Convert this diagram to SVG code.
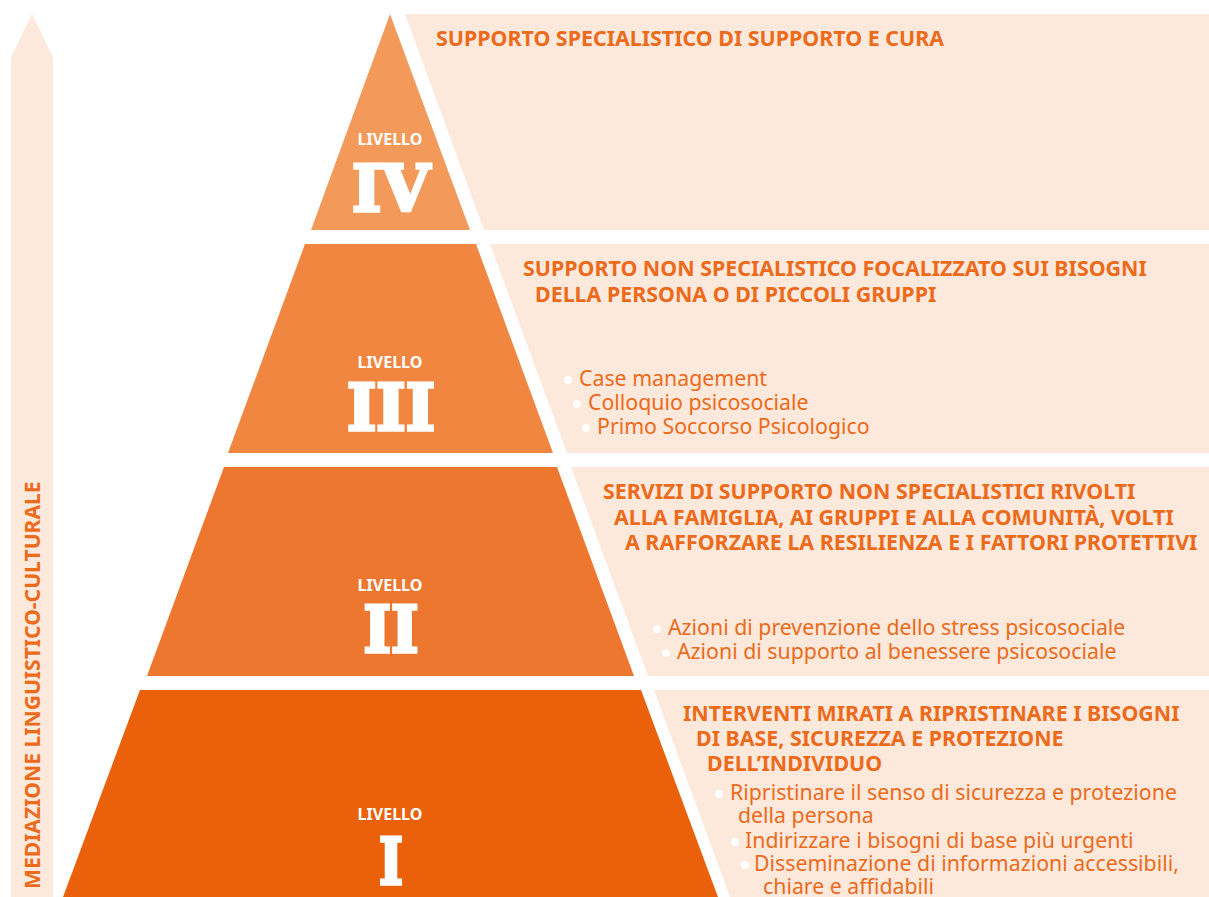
<svg xmlns="http://www.w3.org/2000/svg" width="1209" height="897" viewBox="0 0 1209 897">
<style>
.panel{fill:#FDE9DC}
.hd{font-family:"Noto Sans","Open Sans",sans-serif;font-weight:700;font-size:21.4px;fill:#EC6A1A}
.bl{font-family:"Noto Sans","Open Sans",sans-serif;font-size:21.3px;fill:#EC6A1A}
.lv{font-family:"Noto Sans","Open Sans",sans-serif;font-weight:700;font-size:16px;fill:#FFFFFF;text-anchor:middle}
.rn{font-family:"DejaVu Serif","Liberation Serif",serif;font-weight:700;font-size:64px;fill:#FFFFFF;stroke:#FFFFFF;stroke-width:3.5;stroke-linejoin:miter;text-anchor:middle}
.dot{fill:#FFFFFF}
.side{font-family:"Noto Sans","Open Sans",sans-serif;font-weight:700;font-size:21.1px;fill:#EC6A1A}
</style>
<rect width="1209" height="897" fill="#FFFFFF"/>
<g id="arrow">
<polygon class="panel" points="32,14 53,57 53,897 11,897 11,57"/>
<text class="side" transform="translate(40,889) rotate(-90)">MEDIAZIONE LINGUISTICO-CULTURALE</text>
</g>
<g id="level4">
<polygon fill="#F39A5A" points="390,14 470,230 311,230"/>
<polygon class="panel" points="405,14 1209,14 1209,230 484,230"/>
<text class="lv" x="390" y="145">LIVELLO</text>
<text class="rn" x="391" y="211" font-size="70" textLength="78" lengthAdjust="spacingAndGlyphs">IV</text>
<text class="hd" x="436" y="46">SUPPORTO SPECIALISTICO DI SUPPORTO E CURA</text>
</g>
<g id="level3">
<polygon fill="#F0863F" points="305,244 476,244 553,453 228,453"/>
<polygon class="panel" points="490,244 1209,244 1209,453 567,453"/>
<text class="lv" x="390" y="368">LIVELLO</text>
<text class="rn" x="391" y="430" textLength="88" lengthAdjust="spacingAndGlyphs">III</text>
<text class="hd" x="523" y="276">SUPPORTO NON SPECIALISTICO FOCALIZZATO SUI BISOGNI</text>
<text class="hd" x="535" y="302">DELLA PERSONA O DI PICCOLI GRUPPI</text>
<circle class="dot" cx="568" cy="380" r="4"/>
<text class="bl" x="579" y="386">Case management</text>
<circle class="dot" cx="577" cy="404" r="4"/>
<text class="bl" x="588" y="410">Colloquio psicosociale</text>
<circle class="dot" cx="586" cy="428" r="4"/>
<text class="bl" x="597" y="434">Primo Soccorso Psicologico</text>
</g>
<g id="level2">
<polygon fill="#EE772F" points="224,467 557,467 634,676 147,676"/>
<polygon class="panel" points="571,467 1209,467 1209,676 648,676"/>
<text class="lv" x="390" y="591">LIVELLO</text>
<text class="rn" x="391" y="652" textLength="55" lengthAdjust="spacingAndGlyphs">II</text>
<text class="hd" x="603" y="499">SERVIZI DI SUPPORTO NON SPECIALISTICI RIVOLTI</text>
<text class="hd" x="614" y="525">ALLA FAMIGLIA, AI GRUPPI E ALLA COMUNITÀ, VOLTI</text>
<text class="hd" x="625" y="550">A RAFFORZARE LA RESILIENZA E I FATTORI PROTETTIVI</text>
<circle class="dot" cx="657" cy="629" r="4"/>
<text class="bl" x="668" y="635">Azioni di prevenzione dello stress psicosociale</text>
<circle class="dot" cx="666" cy="653" r="4"/>
<text class="bl" x="677" y="659">Azioni di supporto al benessere psicosociale</text>
</g>
<g id="level1">
<polygon fill="#EB600B" points="140,690 641,690 718,897 63,897"/>
<polygon class="panel" points="654,690 1209,690 1209,897 730,897"/>
<text class="lv" x="390" y="820">LIVELLO</text>
<text class="rn" x="391" y="884" textLength="24" lengthAdjust="spacingAndGlyphs">I</text>
<text class="hd" x="683" y="721">INTERVENTI MIRATI A RIPRISTINARE I BISOGNI</text>
<text class="hd" x="696" y="746">DI BASE, SICUREZZA E PROTEZIONE</text>
<text class="hd" x="707" y="771">DELL’INDIVIDUO</text>
<circle class="dot" cx="719" cy="794" r="4"/>
<text class="bl" x="730" y="800">Ripristinare il senso di sicurezza e protezione</text>
<text class="bl" x="738" y="823">della persona</text>
<circle class="dot" cx="735" cy="842" r="4"/>
<text class="bl" x="745" y="848">Indirizzare i bisogni di base più urgenti</text>
<circle class="dot" cx="745" cy="865" r="4"/>
<text class="bl" x="754" y="871">Disseminazione di informazioni accessibili,</text>
<text class="bl" x="763" y="894">chiare e affidabili</text>
</g>
</svg>
